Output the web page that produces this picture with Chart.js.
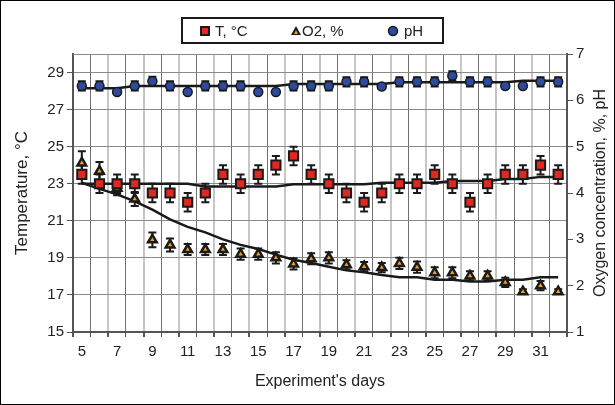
<!DOCTYPE html>
<html>
<head>
<meta charset="utf-8">
<script src="https://cdn.jsdelivr.net/npm/chart.js@4/dist/chart.umd.min.js"></script>
<style>
  html, body { margin: 0; padding: 0; background: #fff; }
</style>
</head>
<body>
<canvas id="chart" width="615" height="405"></canvas>
<script>
const days = ['5','6','7','8','9','10','11','12','13','14','15','16','17','18','19','20',
  '21','22','23','24','25','26','27','28','29','30','31','32'];

// temperature, left axis
const tempVals = [23.5,23,23,23,22.5,22.5,22,22.5,23.5,23,23.5,24,24.5,23.5,23,22.5,22,22.5,23,23,23.5,23,22,23,23.5,23.5,24,23.5];
const tempErr = [0.5,0.5,0.5,0.5,0.5,0.5,0.5,0.5,0.5,0.5,0.5,0.5,0.5,0.5,0.5,0.5,0.5,0.5,0.5,0.5,0.5,0.5,0.5,0.5,0.5,0.5,0.5,0.5];
const tempTrend = [23,23,23,23,23,23,23,22.85,22.85,22.85,22.85,22.85,22.97,22.97,22.97,22.97,22.97,23.05,23.05,23.05,23.05,23.15,23.15,23.15,23.25,23.25,23.37,23.37];

// oxygen and pH, right axis
const o2Vals = [4.65,4.47,4.1,3.87,2.99,2.88,2.78,2.78,2.78,2.68,2.68,2.6,2.47,2.58,2.6,2.45,2.41,2.39,2.48,2.4,2.28,2.28,2.21,2.21,2.07,1.87,2,1.87];
const o2Err = [0.25,0.2,0.15,0.15,0.16,0.14,0.12,0.12,0.12,0.12,0.12,0.12,0.12,0.12,0.12,0.1,0.1,0.1,0.12,0.12,0.12,0.12,0.1,0.1,0.1,0.05,0.1,0.05];
const o2Trend = [4.22,4.09,3.97,3.82,3.64,3.43,3.27,3.15,3,2.88,2.79,2.67,2.56,2.49,2.41,2.33,2.29,2.23,2.18,2.18,2.13,2.13,2.09,2.09,2.13,2.13,2.18,2.18];

const phVals = [6.31,6.31,6.18,6.31,6.41,6.31,6.18,6.31,6.31,6.31,6.18,6.18,6.31,6.31,6.31,6.4,6.4,6.3,6.4,6.4,6.4,6.53,6.4,6.4,6.31,6.31,6.4,6.4];
const phErr = [0.1,0.1,0.03,0.1,0.1,0.1,0.03,0.1,0.1,0.1,0.03,0.03,0.1,0.1,0.1,0.1,0.1,0.05,0.1,0.1,0.1,0.1,0.1,0.1,0.05,0.03,0.1,0.1];
const phTrend = [6.26,6.26,6.26,6.31,6.31,6.31,6.31,6.31,6.31,6.31,6.31,6.31,6.35,6.35,6.35,6.35,6.35,6.35,6.39,6.39,6.39,6.39,6.39,6.39,6.39,6.42,6.42,6.42];

const tempTicks = [15,17,19,21,23,25,27,29];
const rightTicks = [1,2,3,4,5,6,7];

const FONT = '"Liberation Sans", Arial, sans-serif';
const INK = '#1a1a1a';
const RED = '#e3261f';
const ORANGE = '#f39a1c';
const BLUE = '#2c4a9e';

// error bars, drawn behind the markers
const errorBars = {
  id: 'errorBars',
  beforeDatasetsDraw(chart) {
    const ctx = chart.ctx;
    const xs = chart.scales.x;
    const sets = [
      [tempVals, tempErr, chart.scales.y],
      [o2Vals, o2Err, chart.scales.y2],
      [phVals, phErr, chart.scales.y2]
    ];
    ctx.save();
    ctx.strokeStyle = INK;
    ctx.lineWidth = 2;
    sets.forEach(([vals, errs, ys]) => {
      vals.forEach((v, i) => {
        const px = xs.getPixelForValue(i);
        const top = ys.getPixelForValue(v + errs[i]);
        const bot = ys.getPixelForValue(v - errs[i]);
        ctx.beginPath();
        ctx.moveTo(px, top); ctx.lineTo(px, bot);
        ctx.moveTo(px - 4, top); ctx.lineTo(px + 4, top);
        ctx.moveTo(px - 4, bot); ctx.lineTo(px + 4, bot);
        ctx.stroke();
      });
    });
    ctx.restore();
  }
};

// legend box, right title, top line and outer frame
const decorations = {
  id: 'decorations',
  afterDraw(chart) {
    const ctx = chart.ctx;
    const area = chart.chartArea;
    ctx.save();

    // top edge of plot
    ctx.strokeStyle = '#8a8a8a';
    ctx.lineWidth = 1;
    ctx.beginPath();
    ctx.moveTo(area.left, area.top + 0.5);
    ctx.lineTo(area.right, area.top + 0.5);
    ctx.stroke();

    // right axis title, reading bottom to top
    ctx.fillStyle = '#222';
    ctx.font = '16px ' + FONT;
    ctx.textAlign = 'center';
    ctx.textBaseline = 'middle';
    ctx.translate(601, (area.top + area.bottom) / 2);
    ctx.rotate(-Math.PI / 2);
    ctx.fillText('Oxygen concentration, %, pH', 0, 0);
    ctx.setTransform(1, 0, 0, 1, 0, 0);

    // legend
    ctx.strokeStyle = INK;
    ctx.lineWidth = 2;
    ctx.strokeRect(182, 18, 261, 25);
    const ly = 31;
    ctx.lineWidth = 2;
    ctx.fillStyle = RED;
    ctx.fillRect(201, ly - 4, 8, 8);
    ctx.strokeRect(201, ly - 4, 8, 8);
    ctx.fillStyle = INK;
    ctx.beginPath();
    ctx.moveTo(296, ly - 5); ctx.lineTo(301, ly + 4); ctx.lineTo(291, ly + 4); ctx.closePath();
    ctx.fill();
    ctx.fillStyle = ORANGE;
    ctx.beginPath();
    ctx.moveTo(296, ly - 1); ctx.lineTo(298, ly + 3); ctx.lineTo(294, ly + 3); ctx.closePath();
    ctx.fill();
    ctx.fillStyle = BLUE;
    ctx.lineWidth = 1.5;
    ctx.beginPath();
    ctx.arc(393, ly, 4.5, 0, Math.PI * 2);
    ctx.fill();
    ctx.stroke();
    ctx.fillStyle = '#222';
    ctx.font = '15px ' + FONT;
    ctx.textAlign = 'left';
    ctx.fillText('T, °C', 215, ly + 1);
    ctx.fillText('O2, %', 302, ly + 1);
    ctx.fillText('pH', 404, ly + 1);

    // outer frame
    ctx.strokeStyle = '#000';
    ctx.lineWidth = 1;
    ctx.strokeRect(0.5, 0.5, 614, 404);
    ctx.restore();
  }
};

const pointSet = (label, data, axis, style, radius, color, bw) => ({
  type: 'line',
  label: label,
  data: data,
  yAxisID: axis,
  showLine: false,
  pointStyle: style,
  pointRadius: radius,
  pointBackgroundColor: color,
  pointBorderColor: INK,
  pointBorderWidth: bw,
  order: 1
});

const trendSet = (data, axis) => ({
  type: 'line',
  data: data,
  yAxisID: axis,
  borderColor: INK,
  borderWidth: 2.5,
  pointRadius: 0,
  fill: false,
  order: 5
});

const config = {
  type: 'line',
  data: {
    labels: days,
    datasets: [
      pointSet('T, °C', tempVals, 'y', 'rect', 6.5, RED, 2),
      pointSet('O2, %', o2Vals, 'y2', 'triangle', 5, ORANGE, 2.5),
      pointSet('pH', phVals, 'y2', 'circle', 4.5, BLUE, 1.5),
      trendSet(tempTrend, 'y'),
      trendSet(o2Trend, 'y2'),
      trendSet(phTrend, 'y2')
    ]
  },
  options: {
    responsive: false,
    animation: false,
    layout: { padding: { top: 54, left: 0, right: 0, bottom: 0 } },
    plugins: {
      legend: { display: false },
      tooltip: { enabled: false }
    },
    scales: {
      x: {
        offset: true,
        grid: {
          offset: true,
          color: ctx => (ctx.index % 2 === 1 ? '#707070' : '#c6c6c6'),
          lineWidth: ctx => (ctx.index % 2 === 1 ? 1 : 2),
          tickLength: 5,
          tickColor: '#555'
        },
        border: { color: '#555', width: 2 },
        ticks: {
          autoSkip: false,
          maxRotation: 0,
          padding: 6,
          color: '#222',
          font: { family: FONT, size: 15 },
          callback: (v, i) => (i % 2 === 0 ? days[i] : '')
        },
        title: {
          display: true,
          text: "Experiment's days",
          color: '#222',
          font: { family: FONT, size: 16 },
          padding: { top: 6, bottom: 14 }
        },
        afterFit: s => { s.height = 73; }
      },
      y: {
        position: 'left',
        min: 15,
        max: 30,
        afterBuildTicks: s => { s.ticks = tempTicks.map(v => ({ value: v })); },
        grid: { color: '#8a8a8a', lineWidth: 1, tickLength: 6, tickColor: '#555' },
        border: { color: '#555', width: 2 },
        ticks: { padding: 3, color: '#222', font: { family: FONT, size: 15 } },
        title: {
          display: true,
          text: 'Temperature, °C',
          color: '#222',
          font: { family: FONT, size: 17 },
          padding: { top: 12, bottom: 0 }
        },
        afterFit: s => { s.width = 73; }
      },
      y2: {
        position: 'right',
        min: 1,
        max: 7,
        afterBuildTicks: s => { s.ticks = rightTicks.map(v => ({ value: v })); },
        grid: { drawOnChartArea: false, tickLength: 6, tickColor: '#555' },
        border: { color: '#555', width: 2 },
        ticks: { padding: 3, color: '#222', font: { family: FONT, size: 15 } },
        afterFit: s => { s.width = 48; }
      }
    }
  },
  plugins: [errorBars, decorations]
};

new Chart(document.getElementById('chart'), config);
</script>
</body>
</html>
